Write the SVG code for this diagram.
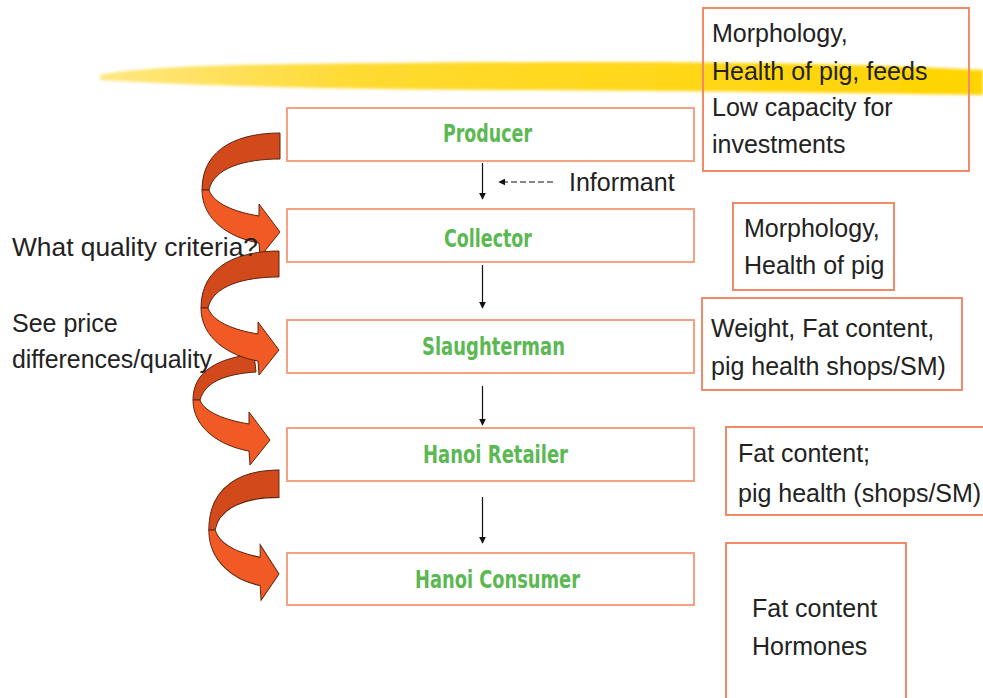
<svg xmlns="http://www.w3.org/2000/svg" width="983" height="698" viewBox="0 0 983 698">
<style>
.box{fill:#fff;stroke:#F5A282;stroke-width:2}
.rbox{fill:none;stroke:#F08A68;stroke-width:2}
.lbl{font-family:"DejaVu Sans Condensed","Liberation Sans Narrow","DejaVu Sans",sans-serif;font-stretch:condensed;font-weight:bold;font-size:25px;fill:#5BB852}
.t{font-family:"Liberation Sans",Arial,sans-serif;font-size:25px;fill:#222}
.back{fill:#D24A1C;stroke:#5a2410;stroke-width:1}
.front{fill:#F15A24;stroke:#5a2410;stroke-width:1}
.ln{stroke:#111;stroke-width:1.2;fill:none}
</style>
<defs>
<marker id="ah" viewBox="0 0 10 10" refX="9" refY="5" markerWidth="7" markerHeight="7" orient="auto" markerUnits="userSpaceOnUse">
<path d="M0,0 L10,5 L0,10 Z" fill="#111"/>
</marker>
<filter id="blur" x="-5%" y="-50%" width="110%" height="200%"><feGaussianBlur stdDeviation="1.4"/></filter>
<linearGradient id="yg" x1="0" y1="0" x2="1" y2="0">
<stop offset="0" stop-color="#FFE680"/>
<stop offset="0.3" stop-color="#FFDA30"/>
<stop offset="1" stop-color="#FFD400"/>
</linearGradient>
<g id="curl">
<path class="back" d="M0,-99 C-38,-99 -78,-86 -78,-42 L-71,-42 C-66,-64 -36,-73 0,-73 Z"/>
<path class="front" d="M-78,-42 C-78,-12 -50,6 -21,11 L-20,25 L0,0 L-21,-28 L-21,-16 C-45,-20 -66,-28 -71,-42 Z"/>
</g>
</defs>

<!-- yellow brush stroke -->
<path d="M100,75 C140,67 220,64 400,63 C600,61 800,61 983,70 L983,95 C850,93 700,91 500,90 C350,89 220,87 100,80 Z" fill="url(#yg)" filter="url(#blur)"/>

<!-- curled arrows -->
<g id="curls">
<g transform="translate(280,232)"><use href="#curl"/></g>
<g transform="translate(270,440)">
<path class="back" d="M-16,-86 C-50,-82 -77,-70 -77,-40 L-70,-40 C-65,-58 -45,-66 -14,-68 Z"/>
<path class="front" d="M-77,-40 C-77,-12 -50,6 -21,11 L-20,25 L0,0 L-21,-28 L-21,-16 C-45,-20 -66,-28 -70,-40 Z"/>
</g>
<g transform="translate(279,350)"><use href="#curl"/></g>
<g transform="translate(279,574) scale(0.9,1.05)"><use href="#curl"/></g>
</g>

<!-- connectors -->
<g id="connectors">
<line class="ln" x1="482.5" y1="163" x2="482.5" y2="199" marker-end="url(#ah)"/>
<line class="ln" x1="482.5" y1="265" x2="482.5" y2="308" marker-end="url(#ah)"/>
<line class="ln" x1="482.5" y1="386" x2="482.5" y2="425" marker-end="url(#ah)"/>
<line class="ln" x1="482.5" y1="497" x2="482.5" y2="543" marker-end="url(#ah)"/>
<line class="ln" x1="553" y1="182" x2="499" y2="182" stroke-dasharray="6,3" stroke-width="1.5" marker-end="url(#ah)"/>
</g>
<text class="t" x="569" y="191">Informant</text>

<!-- chain nodes -->
<g id="producer"><rect class="box" x="287" y="108" width="407" height="53"/><text class="lbl" x="443" y="142" textLength="89" lengthAdjust="spacingAndGlyphs">Producer</text></g>
<g id="collector"><rect class="box" x="287" y="209" width="407" height="53"/><text class="lbl" x="444" y="247" textLength="88" lengthAdjust="spacingAndGlyphs">Collector</text></g>
<g id="slaughterman"><rect class="box" x="287" y="320" width="407" height="53"/><text class="lbl" x="422" y="355" textLength="143" lengthAdjust="spacingAndGlyphs">Slaughterman</text></g>
<g id="retailer"><rect class="box" x="287" y="428" width="407" height="53"/><text class="lbl" x="423" y="463" textLength="145" lengthAdjust="spacingAndGlyphs">Hanoi Retailer</text></g>
<g id="consumer"><rect class="box" x="287" y="553" width="407" height="52"/><text class="lbl" x="415" y="588" textLength="165" lengthAdjust="spacingAndGlyphs">Hanoi Consumer</text></g>

<!-- criteria boxes -->
<g id="crit-producer"><rect class="rbox" x="703" y="8" width="266" height="163"/>
<text class="t" x="712" y="42">Morphology,</text>
<text class="t" x="712" y="80">Health of pig, feeds</text>
<text class="t" x="712" y="116">Low capacity for</text>
<text class="t" x="712" y="153">investments</text></g>
<g id="crit-collector"><rect class="rbox" x="733" y="203" width="161" height="87"/>
<text class="t" x="744" y="237">Morphology,</text>
<text class="t" x="744" y="274">Health of pig</text></g>
<g id="crit-slaughterman"><rect class="rbox" x="702" y="298" width="260" height="92"/>
<text class="t" x="711" y="337">Weight, Fat content,</text>
<text class="t" x="711" y="375">pig health shops/SM)</text></g>
<g id="crit-retailer"><rect class="rbox" x="726" y="427" width="270" height="88"/>
<text class="t" x="738" y="462">Fat content;</text>
<text class="t" x="738" y="502">pig health (shops/SM)</text></g>
<g id="crit-consumer"><rect class="rbox" x="726" y="543" width="180" height="170"/>
<text class="t" x="752" y="617">Fat content</text>
<text class="t" x="752" y="655">Hormones</text></g>

<!-- left texts -->
<text class="t" x="12" y="256" textLength="246" lengthAdjust="spacingAndGlyphs">What quality criteria?</text>
<text class="t" x="12" y="332">See price</text>
<text class="t" x="12" y="368" textLength="200" lengthAdjust="spacingAndGlyphs">differences/quality</text>
</svg>
